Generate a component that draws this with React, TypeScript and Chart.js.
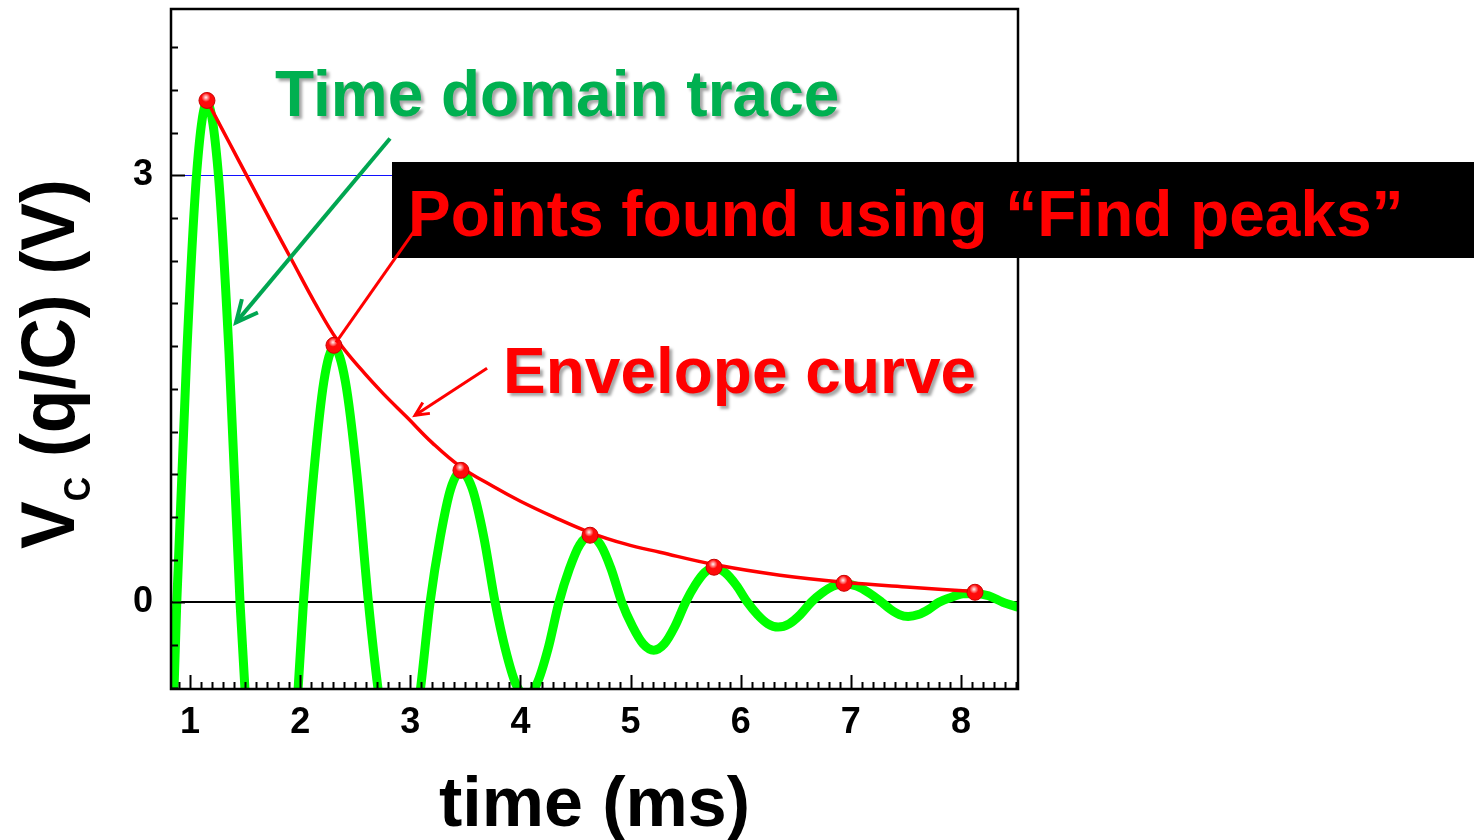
import React, { useEffect, useRef } from 'react';
import { Chart, registerables } from 'chart.js';

Chart.register(...registerables);

const FONT = '"Liberation Sans", Arial, Helvetica, sans-serif';

// Axis ranges and tick labels
const X_MIN = 0.8275;
const X_MAX = 8.5175;
const Y_MIN = -0.61;
const Y_MAX = 4.17;
const X_TICKS = [1, 2, 3, 4, 5, 6, 7, 8];
const Y_TICKS = [0, 3];
// Horizontal reference lines: [value, colour, width]
const ZERO_LINE = 0;
const REF_LINE = 3;

// Time-domain trace (ms, V)
const TRACE_T = [
  0.787, 0.88, 0.971, 1.063, 1.154, 1.254, 1.354, 1.454, 1.546, 1.638, 1.73, 1.83, 1.93, 2.03,
  2.122, 2.215, 2.307, 2.411, 2.516, 2.62, 2.713, 2.807, 2.9, 2.993, 3.087, 3.18,
  3.273, 3.367, 3.46, 3.563, 3.667, 3.77, 3.863, 3.957, 4.05, 4.15, 4.25, 4.35,
  4.444, 4.538, 4.632, 4.728, 4.824, 4.92, 5.017, 5.113, 5.21, 5.307, 5.403, 5.5,
  5.586, 5.672, 5.758, 5.859, 5.959, 6.06, 6.153, 6.247, 6.34, 6.44, 6.54, 6.64,
  6.739, 6.839, 6.938, 7.052, 7.166, 7.28, 7.36, 7.44, 7.52, 7.613, 7.707, 7.8,
  7.909, 8.018, 8.127, 8.25, 8.38, 8.52,
];
const TRACE_V = [
  -2.3, 0, 1.755, 3.04, 3.51, 3.04, 1.755, 0, -1.25, -2.165, -2.5, -2.165, -1.25, 0,
  0.895, 1.55, 1.79, 1.55, 0.895, 0, -0.645, -1.117, -1.29, -1.117, -0.645, 0,
  0.46, 0.797, 0.92, 0.797, 0.46, 0, -0.33, -0.572, -0.66, -0.572, -0.33, 0,
  0.233, 0.403, 0.465, 0.403, 0.233, 0, -0.169, -0.292, -0.337, -0.292, -0.169, 0,
  0.12, 0.208, 0.24, 0.208, 0.12, 0, -0.088, -0.152, -0.175, -0.152, -0.088, 0,
  0.065, 0.113, 0.13, 0.113, 0.065, 0, -0.05, -0.087, -0.1, -0.087, -0.05, 0,
  0.034, 0.059, 0.062, 0.045, 0.0, -0.035,
];

// Fitted envelope curve
const ENV_T = [1.154, 1.35, 1.545, 1.74, 1.935, 2.13, 2.335, 2.55, 2.75, 2.97, 3.2, 3.46, 3.75, 4.0, 4.3, 4.632, 4.95, 5.267, 5.758, 6.357, 6.938, 7.537, 8.127];
const ENV_V = [3.527, 3.24, 2.955, 2.67, 2.39, 2.11, 1.845, 1.64, 1.47, 1.3, 1.12, 0.95, 0.815, 0.71, 0.6, 0.49, 0.41, 0.351, 0.265, 0.19, 0.14, 0.105, 0.075];

// Points found using "Find peaks"
const PEAK_T = [1.154, 2.307, 3.46, 4.632, 5.758, 6.938, 8.127];
const PEAK_V = [3.527, 1.806, 0.927, 0.471, 0.246, 0.133, 0.07];

// Annotation arrows, anchored in data coordinates: [x1, y1, x2, y2]
const GREEN_ARROW = [2.816, 3.26, 1.418, 1.967];
const PEAK_POINTER = [3.034, 2.607, 2.326, 1.827];
const ENV_ARROW = [3.697, 1.644, 3.043, 1.314];

const framePlugin = {
  id: 'framePlugin',
  beforeDatasetsDraw(chart: any) {
    const { ctx, chartArea: a, scales } = chart;
    const ys = scales.y;
    ctx.save();
    const y3 = Math.round(ys.getPixelForValue(REF_LINE)) + 0.5;
    ctx.strokeStyle = '#1010ff';
    ctx.lineWidth = 1;
    ctx.beginPath();
    ctx.moveTo(a.left, y3);
    ctx.lineTo(a.right, y3);
    ctx.stroke();
    const y0 = Math.round(ys.getPixelForValue(ZERO_LINE));
    ctx.strokeStyle = '#000';
    ctx.lineWidth = 2;
    ctx.beginPath();
    ctx.moveTo(a.left, y0);
    ctx.lineTo(a.right, y0);
    ctx.stroke();
    ctx.restore();
  },
  afterDatasetsDraw(chart: any) {
    const { ctx, chartArea: a, scales } = chart;
    const xs = scales.x;
    const ys = scales.y;
    ctx.save();
    ctx.strokeStyle = '#000';
    ctx.lineWidth = 2;
    ctx.beginPath();
    for (let k = 9; k <= 85; k++) {
      const px = Math.round(xs.getPixelForValue(k / 10)) + 0.5;
      const len = k % 10 === 0 ? 14 : 7;
      ctx.moveTo(px, a.bottom);
      ctx.lineTo(px, a.bottom - len);
    }
    for (let k = -2; k <= 13; k++) {
      const py = Math.round(ys.getPixelForValue(k * 0.3)) + 0.5;
      const len = k % 10 === 0 ? 14 : 7;
      ctx.moveTo(a.left, py);
      ctx.lineTo(a.left + len, py);
    }
    ctx.stroke();
    ctx.lineWidth = 2.5;
    ctx.strokeRect(a.left, a.top, a.right - a.left, a.bottom - a.top);
    ctx.restore();

    const meta = chart.getDatasetMeta(0);
    ctx.save();
    meta.data.forEach((pt: any) => {
      const cx = pt.x - 1;
      const cy = pt.y - 3;
      const g = ctx.createRadialGradient(cx, cy, 0, cx, cy, 4.5);
      g.addColorStop(0, 'rgba(255,255,255,0.95)');
      g.addColorStop(1, 'rgba(255,255,255,0)');
      ctx.fillStyle = g;
      ctx.beginPath();
      ctx.arc(cx, cy, 4.5, 0, Math.PI * 2);
      ctx.fill();
    });
    ctx.restore();
  },
  afterDraw(chart: any) {
    const { ctx, scales } = chart;
    const xs = scales.x;
    const ys = scales.y;
    const P = (arr: number[]) => [
      xs.getPixelForValue(arr[0]),
      ys.getPixelForValue(arr[1]),
      xs.getPixelForValue(arr[2]),
      ys.getPixelForValue(arr[3]),
    ];
    ctx.save();
    ctx.fillStyle = '#000';
    ctx.fillRect(392, 162, 1082, 96);

    const line = (arr: number[], color: string, w: number, head: number) => {
      const [x1, y1, x2, y2] = P(arr);
      ctx.strokeStyle = color;
      ctx.lineWidth = w;
      ctx.lineCap = 'butt';
      ctx.lineJoin = 'miter';
      ctx.beginPath();
      ctx.moveTo(x1, y1);
      ctx.lineTo(x2, y2);
      ctx.stroke();
      if (head > 0) {
        const ang = Math.atan2(y1 - y2, x1 - x2);
        const spread = 0.45;
        ctx.beginPath();
        ctx.moveTo(x2 + head * Math.cos(ang + spread), y2 + head * Math.sin(ang + spread));
        ctx.lineTo(x2, y2);
        ctx.lineTo(x2 + head * Math.cos(ang - spread), y2 + head * Math.sin(ang - spread));
        ctx.stroke();
      }
    };
    line(GREEN_ARROW, '#00a651', 4, 24);
    line(PEAK_POINTER, '#ff0000', 3, 0);
    line(ENV_ARROW, '#ff0000', 3, 15);
    ctx.restore();
  },
};

export default function App() {
  const ref = useRef<HTMLCanvasElement | null>(null);

  useEffect(() => {
    const canvas = ref.current;
    if (!canvas) return;
    const chart = new Chart(canvas, {
      type: 'scatter',
      data: {
        datasets: [
          {
            label: 'Peaks',
            data: PEAK_T.map((t, i) => ({ x: t, y: PEAK_V[i] })),
            showLine: false,
            pointRadius: 8,
            pointBackgroundColor: '#ff0a0a',
            pointBorderColor: '#c80000',
            pointBorderWidth: 1,
            clip: 0,
          } as any,
          {
            label: 'Envelope',
            data: ENV_T.map((t, i) => ({ x: t, y: ENV_V[i] })),
            showLine: true,
            borderColor: '#ff0000',
            borderWidth: 3.5,
            pointRadius: 0,
            tension: 0.4,
            clip: 0,
          } as any,
          {
            label: 'Trace',
            data: TRACE_T.map((t, i) => ({ x: t, y: TRACE_V[i] })),
            showLine: true,
            borderColor: '#00ff00',
            borderWidth: 9,
            pointRadius: 0,
            cubicInterpolationMode: 'monotone',
            borderJoinStyle: 'round',
            clip: 0,
          } as any,
        ],
      },
      options: {
        animation: false,
        responsive: false,
        maintainAspectRatio: false,
        events: [],
        layout: { padding: { left: 0, top: 8, right: 456, bottom: 0 } },
        plugins: { legend: { display: false }, tooltip: { enabled: false } },
        scales: {
          x: {
            type: 'linear',
            min: X_MIN,
            max: X_MAX,
            afterBuildTicks: (s: any) => {
              s.ticks = X_TICKS.map((v) => ({ value: v }));
            },
            afterFit: (s: any) => {
              s.height = 151;
              s.paddingLeft = 0;
              s.paddingRight = 0;
              s.paddingTop = 0;
              s.paddingBottom = 0;
            },
            grid: { display: false, drawTicks: false },
            border: { display: false },
            ticks: {
              autoSkip: false,
              maxRotation: 0,
              padding: 12,
              color: '#000',
              font: { family: FONT, size: 36, weight: 'bold' },
              callback: (v: any) => String(v),
            },
            title: {
              display: true,
              text: 'time (ms)',
              color: '#000',
              padding: 0,
              font: { family: FONT, size: 70, weight: 'bold', lineHeight: 0.96 },
            },
          },
          y: {
            type: 'linear',
            min: Y_MIN,
            max: Y_MAX,
            afterBuildTicks: (s: any) => {
              s.ticks = Y_TICKS.map((v) => ({ value: v }));
            },
            afterFit: (s: any) => {
              s.width = 171;
              s.paddingLeft = 0;
              s.paddingRight = 0;
              s.paddingTop = 0;
              s.paddingBottom = 0;
            },
            grid: { display: false, drawTicks: false },
            border: { display: false },
            ticks: {
              padding: 18,
              color: '#000',
              font: { family: FONT, size: 36, weight: 'bold' },
              callback: (v: any) => String(v),
            },
          },
        },
      } as any,
      plugins: [framePlugin],
    });
    return () => chart.destroy();
  }, []);

  const shadow = '3px 3px 3px rgba(0,0,0,0.35)';
  const label = (text: string, left: number, top: number, color: string, withShadow: boolean) => (
    <div
      style={{
        position: 'absolute',
        left,
        top,
        font: `bold 64px ${FONT}`,
        lineHeight: '64px',
        whiteSpace: 'nowrap',
        color,
        textShadow: withShadow ? shadow : 'none',
      }}
    >
      {text}
    </div>
  );

  return (
    <div
      style={{
        position: 'absolute',
        left: 0,
        top: 0,
        width: 1474,
        height: 840,
        overflow: 'hidden',
        background: '#fff',
      }}
    >
      <canvas ref={ref} width={1474} height={840} style={{ display: 'block', width: 1474, height: 840 }} />
      {label('Time domain trace', 275, 62, '#00b050', true)}
      {label('Points found using \u201cFind peaks\u201d', 408, 182, '#ff0000', false)}
      {label('Envelope curve', 503, 339, '#ff0000', true)}
      <div
        style={{
          position: 'absolute',
          left: 0,
          top: 0,
          transformOrigin: '0 0',
          transform: 'translate(10px, 549px) rotate(-90deg) scale(0.94, 1)',
          font: `bold 76px ${FONT}`,
          lineHeight: '76px',
          whiteSpace: 'nowrap',
          color: '#000',
        }}
      >
        V<span style={{ fontSize: 36, position: 'relative', top: 16 }}>C</span> (q/C) (V)
      </div>
    </div>
  );
}
